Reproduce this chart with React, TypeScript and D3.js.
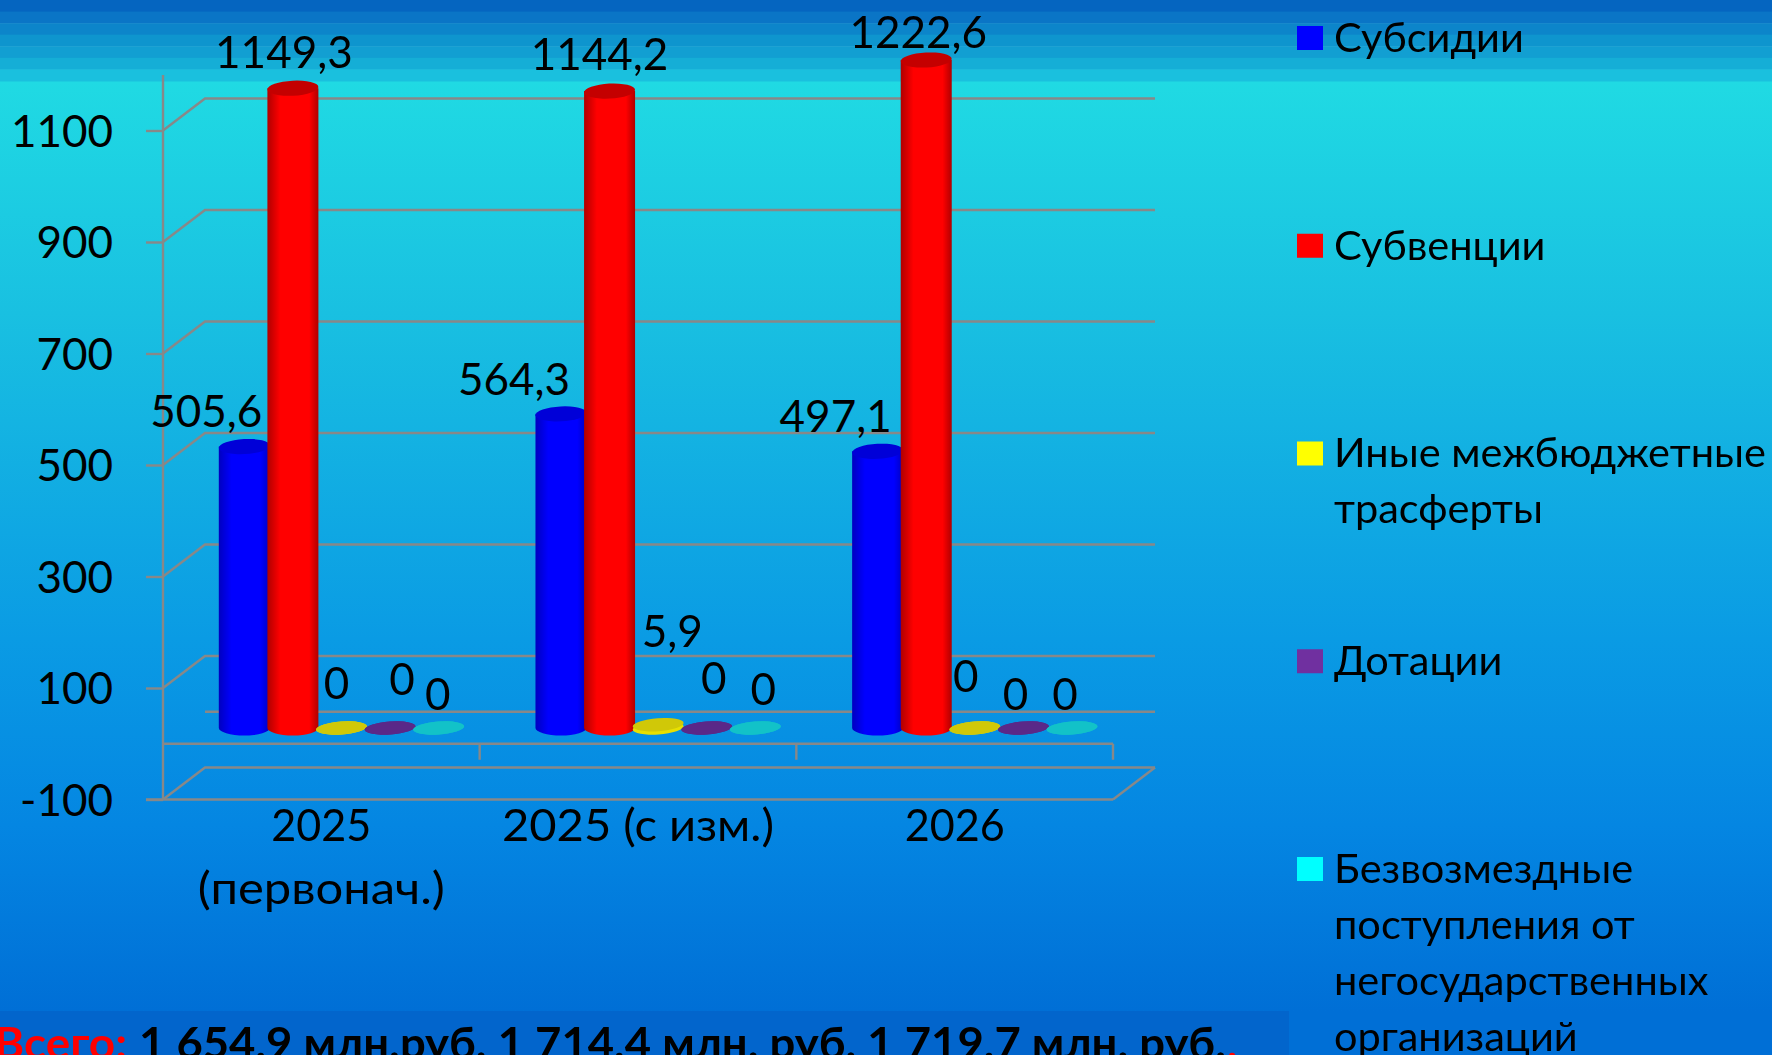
import { useEffect, useRef } from "react";
import * as d3 from "d3";

const categories = ["2025 (первонач.)", "2025 (с изм.)", "2026"];
const categoryLines = [["2025", "(первонач.)"], ["2025 (с изм.)"], ["2026"]];
const seriesNames = ["Субсидии", "Субвенции", "Иные межбюджетные трасферты", "Дотации", "Безвозмездные поступления от негосударственных организаций"];
const legendLines = [
	["Субсидии"],
	["Субвенции"],
	["Иные межбюджетные", "трасферты"],
	["Дотации"],
	["Безвозмездные", "поступления от", "негосударственных", "организаций"],
];
const subsidies = [505.6, 564.3, 497.1];
const subventions = [1149.3, 1144.2, 1222.6];
const otherTransfers = [0, 5.9, 0];
const grants = [0, 0, 0];
const donations = [0, 0, 0];
const seriesValues = [subsidies, subventions, otherTransfers, grants, donations];
const valueTicks = [-100, 100, 300, 500, 700, 900, 1100];
const seriesColors = ["#0000ff", "#ff0000", "#ffff00", "#7030a0", "#00ffff"];
const seriesEdge = ["#0000c0", "#b00000", "#e8e000", "#5a2888", "#12c2c8"];
const seriesCap = ["#0000d8", "#c40000", "#d0c808", "#5a2888", "#12c2c8"];
const bandColors = ["#0565c0", "#0a75c6", "#0c85ca", "#0e95ce", "#129fd2", "#15aed6", "#1ac0de"];
// сдвиг подписей относительно вершины столбца: серия -> категория
const labelShiftX = [
	[-38, -47, -42],
	[-9, -10, -8],
	[-5, 14, -9],
	[12, 7, -8],
	[-1, 8, -7],
];
const labelShiftY = [
	[-35, -35, -35],
	[-36, -37, -28],
	[-45, -94, -52],
	[-49, -50, -34],
	[-34, -39, -34],
];
const categoryLineWidths = [[100, 247], [272], [100]];

const WIDTH = 1772;
const HEIGHT = 1055;
const FONT = "Lato, 'Open Sans', sans-serif";
const fmt = (v: number) => String(v).replace(".", ",");

const App = () => {
	const svgRef = useRef<SVGSVGElement>(null);

	useEffect(() => {
		if (!svgRef.current) return;
		const svg = d3.select(svgRef.current);
		svg.selectAll("*").remove();

		const defs = svg.append("defs");
		const bg = defs.append("linearGradient").attr("id", "bg").attr("x1", 0).attr("x2", 0).attr("y1", 0).attr("y2", 1);
		[
			[0, "#20dae3"],
			[0.25, "#19c0e1"],
			[0.6, "#0a9be4"],
			[0.8, "#0486e2"],
			[1, "#006fd6"],
		].forEach(([o, c]) => bg.append("stop").attr("offset", o).attr("stop-color", c));

		seriesColors.forEach((c, i) => {
			const g = defs.append("linearGradient").attr("id", `cyl${i}`);
			g.append("stop").attr("offset", 0).attr("stop-color", seriesEdge[i]);
			g.append("stop").attr("offset", 0.25).attr("stop-color", c);
			g.append("stop").attr("offset", 0.82).attr("stop-color", c);
			g.append("stop").attr("offset", 1).attr("stop-color", seriesEdge[i]);
		});

		// Фон
		svg.append("rect").attr("y", 81).attr("width", WIDTH).attr("height", 930).attr("fill", "url(#bg)");
		const bandY = d3.scaleBand<number>().domain(d3.range(bandColors.length)).range([0, 81]);
		svg
			.selectAll(".band")
			.data(bandColors)
			.enter()
			.append("rect")
			.attr("y", (_d, i) => bandY(i) as number)
			.attr("width", WIDTH)
			.attr("height", bandY.bandwidth() + 0.5)
			.attr("fill", (d) => d);
		svg.append("rect").attr("y", 1011).attr("width", WIDTH).attr("height", 44).attr("fill", "#006fd6");
		svg.append("rect").attr("y", 1011).attr("width", 1289).attr("height", 44).attr("fill", "#0265cc");

		// Шкалы
		const left = 163;
		const right = 1113;
		const depthX = 42;
		const depthY = -32;
		const x0 = d3.scaleBand<string>().domain(categories).range([left, right]);
		const x1 = d3.scaleBand<number>().domain(d3.range(seriesNames.length)).range([57, 300]);
		const yFront = d3.scaleLinear().domain([-100, 1100]).range([799.5, 130.5]);
		// Плоскость столбцов; ось обрезана на 1200
		const yBar = d3.scaleLinear().domain([0, 1200]).range([728, 60]).clamp(true);

		const grid = "#888888";
		const frame = svg.append("g").attr("fill", "none").attr("stroke", grid).attr("stroke-width", 2.4);
		valueTicks.forEach((t) => {
			const y = yFront(t);
			frame.append("path").attr("d", `M${left},${y}L${left + depthX},${y + depthY}L${right + depthX},${y + depthY}`);
		});
		const zero = yFront(0);
		frame.append("line").attr("x1", left + depthX).attr("x2", right + depthX).attr("y1", zero + depthY).attr("y2", zero + depthY);
		frame.append("line").attr("x1", left).attr("x2", right).attr("y1", zero).attr("y2", zero);
		frame.append("line").attr("x1", left).attr("x2", left).attr("y1", 75).attr("y2", 800);
		frame.append("line").attr("x1", left - 17).attr("x2", right).attr("y1", 799.5).attr("y2", 799.5);
		frame.append("line").attr("x1", right).attr("x2", right + depthX).attr("y1", 799.5).attr("y2", 799.5 + depthY);
		categories.forEach((c) => {
			const x = (x0(c) as number) + x0.bandwidth();
			frame.append("line").attr("x1", x).attr("x2", x).attr("y1", zero).attr("y2", zero + 16);
		});

		// Ось Y
		const yAxis = d3.axisLeft(yFront).tickValues(valueTicks).tickSize(17).tickPadding(33).tickFormat((d) => String(d));
		const axisG = svg
			.append("g")
			.attr("transform", `translate(${left},0)`)
			.call(yAxis)
			.attr("font-family", FONT)
			.attr("font-size", 44);
		axisG.select(".domain").remove();
		axisG.selectAll("line").attr("stroke", grid).attr("stroke-width", 2.4);
		axisG.selectAll("text").attr("fill", "#000").attr("dy", "0.36em");

		// Столбцы
		const barWidth = 51;
		const ry = 7.5;
		seriesValues.forEach((values, s) => {
			values.forEach((v, c) => {
				const cx = (x0(categories[c]) as number) + (x1(s) as number) + x1.bandwidth() / 2;
				const top = yBar(v);
				const base = yBar(0);
				const rx = barWidth / 2;
				if (v < 20) {
					// плоские диски
					svg
						.append("ellipse")
						.attr("cx", cx)
						.attr("cy", base)
						.attr("rx", rx)
						.attr("ry", ry - 1)
						.attr("fill", seriesEdge[s])
						.attr("transform", `rotate(-4 ${cx} ${base})`);
					svg
						.append("ellipse")
						.attr("cx", cx)
						.attr("cy", top)
						.attr("rx", rx)
						.attr("ry", ry - 1)
						.attr("fill", seriesCap[s])
						.attr("transform", `rotate(-4 ${cx} ${top})`);
				} else {
					svg
						.append("path")
						.attr("d", `M${cx - rx},${top}L${cx - rx},${base}A${rx},${ry} 0 0 0 ${cx + rx},${base}L${cx + rx},${top}Z`)
						.attr("fill", `url(#cyl${s})`);
					svg
						.append("ellipse")
						.attr("cx", cx)
						.attr("cy", top)
						.attr("rx", rx)
						.attr("ry", ry)
						.attr("fill", seriesCap[s])
						.attr("transform", `rotate(-3 ${cx} ${top})`);
				}
				svg
					.append("text")
					.attr("x", cx + labelShiftX[s][c])
					.attr("y", top + labelShiftY[s][c])
					.attr("dy", "0.36em")
					.attr("text-anchor", "middle")
					.attr("font-family", FONT)
					.attr("font-size", 44)
					.attr("fill", "#000")
					.text(fmt(v));
			});
		});

		// Подписи категорий
		categoryLines.forEach((lines, c) => {
			lines.forEach((line, l) => {
				svg
					.append("text")
					.attr("x", (x0(categories[c]) as number) + x0.bandwidth() / 2)
					.attr("y", 825 + l * 63)
					.attr("dy", "0.36em")
					.attr("text-anchor", "middle")
					.attr("font-family", FONT)
					.attr("font-size", 45)
					.attr("fill", "#000")
					.attr("textLength", categoryLineWidths[c][l])
					.attr("lengthAdjust", "spacingAndGlyphs")
					.text(line);
			});
		});

		// Легенда
		const legendY = d3.scalePoint<string>().domain(seriesNames).range([37, 868]);
		seriesNames.forEach((name, s) => {
			const y = legendY(name) as number;
			svg.append("rect").attr("x", 1297).attr("y", y - 11).attr("width", 26).attr("height", 24).attr("fill", seriesColors[s]);
			legendLines[s].forEach((line, l) => {
				svg
					.append("text")
					.attr("x", 1334)
					.attr("y", y + l * 56)
					.attr("dy", "0.36em")
					.attr("font-family", FONT)
					.attr("font-size", 41.5)
					.attr("fill", "#000")
					.text(line);
			});
		});

		// Итог
		const totals = svg.append("g").attr("font-family", FONT).attr("font-size", 44).attr("font-weight", 700);
		totals
			.append("text")
			.attr("x", -6)
			.attr("y", 1059)
			.attr("fill", "#ff0000")
			.attr("textLength", 133)
			.attr("lengthAdjust", "spacingAndGlyphs")
			.text("Всего:");
		totals
			.append("text")
			.attr("x", 139)
			.attr("y", 1059)
			.attr("fill", "#000")
			.attr("textLength", 1087)
			.attr("lengthAdjust", "spacingAndGlyphs")
			.text("1 654,9 млн.руб.  1 714,4 млн. руб.  1 719,7 млн. руб.");
		totals.append("text").attr("x", 1227).attr("y", 1059).attr("fill", "#ff0000").text(",");
	}, []);

	return (
		<svg
			ref={svgRef}
			width={WIDTH}
			height={HEIGHT}
			style={{ position: "fixed", left: 0, top: 0, display: "block" }}
		></svg>
	);
};

export default App;
